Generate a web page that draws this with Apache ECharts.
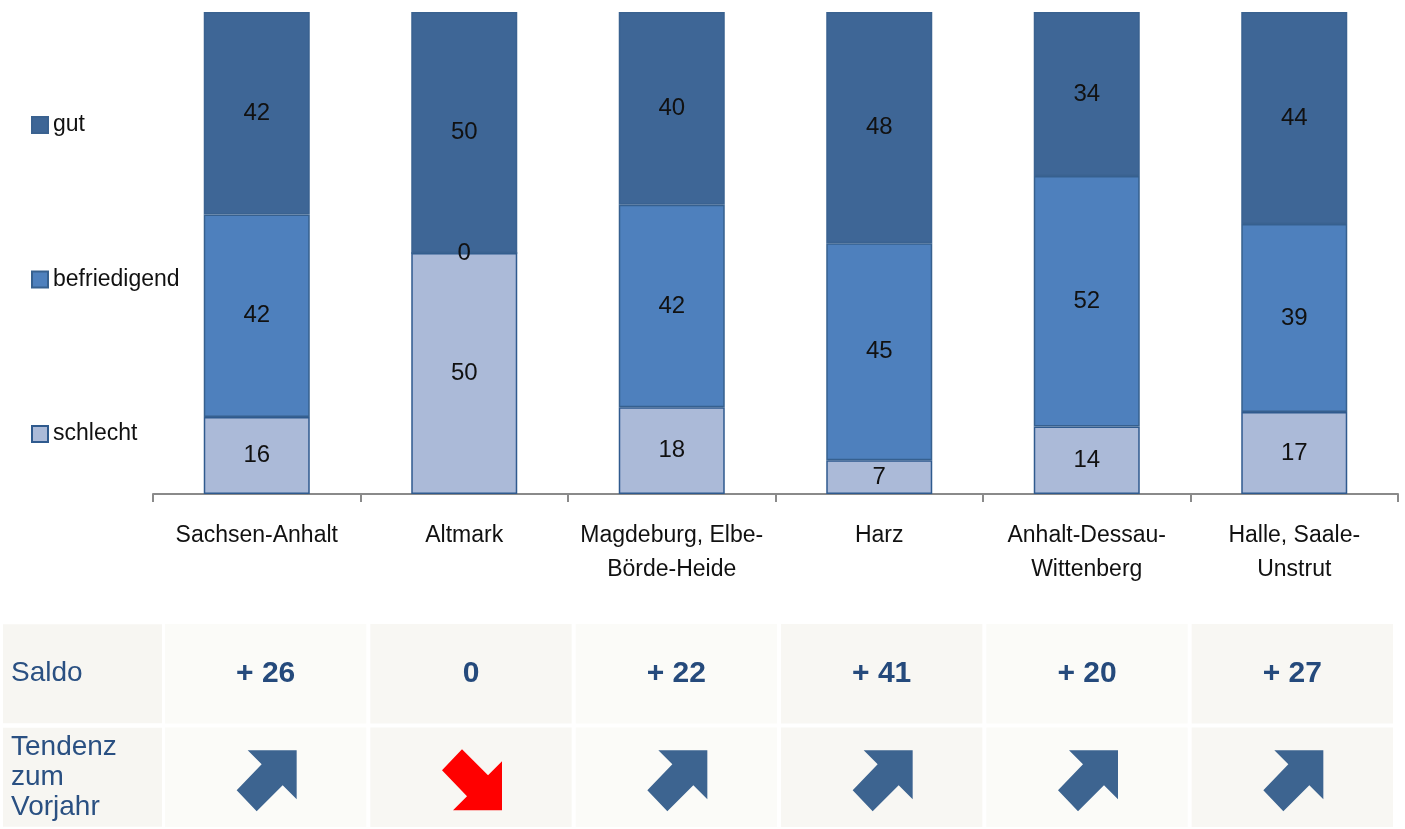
<!DOCTYPE html>
<html>
<head>
<meta charset="utf-8">
<script src="https://cdn.jsdelivr.net/npm/echarts@6/dist/echarts.min.js"></script>
<style>
html,body{margin:0;padding:0;background:#fff;}
#chart{width:1405px;height:829px;}
</style>
</head>
<body>
<div id="chart"></div>
<script>
const categories = ['Sachsen-Anhalt', 'Altmark', 'Magdeburg, Elbe-\nBörde-Heide', 'Harz', 'Anhalt-Dessau-\nWittenberg', 'Halle, Saale-\nUnstrut'];
const gut = [42, 50, 40, 48, 34, 44];
const befriedigend = [42, 0, 42, 45, 52, 39];
const schlecht = [16, 50, 18, 7, 14, 17];
const saldo = ['+ 26', '0', '+ 22', '+ 41', '+ 20', '+ 27'];
const tendenz = ['up', 'down', 'up', 'up', 'up', 'up'];
const rowLabels = ['Saldo', 'Tendenz\nzum\nVorjahr'];

const NARROW = "'Liberation Sans Narrow', 'Arial Narrow', 'Liberation Sans', Arial, sans-serif";
const SANS = "'Liberation Sans', Arial, sans-serif";

const tableData = [];
categories.forEach((c, i) => {
  tableData.push([i, 0, saldo[i]]);
  tableData.push([i, 1, tendenz[i]]);
});

function arrowPoints(cx, cy, dir) {
  const up = [[-19,-30],[30,-30],[30,19],[16,5],[-10,31],[-30,10],[-5,-16]];
  return up.map(p => [cx + p[0], cy + (dir === 'up' ? p[1] : -p[1])]);
}

const chart = echarts.init(document.getElementById('chart'));
const barLabel = { show: true, position: 'inside', color: '#111', fontSize: 24, fontFamily: NARROW };
chart.setOption({
  animation: false,
  legend: {
    data: ['gut', 'befriedigend', 'schlecht'],
    orient: 'vertical',
    left: 31, top: 110, padding: 0,
    itemWidth: 16, itemHeight: 16, itemGap: 124.5,
    icon: 'rect',
    textStyle: { fontSize: 23, fontFamily: NARROW, color: '#111', lineHeight: 30 }
  },
  grid: [
    { left: 153, right: 7, top: 12, bottom: 335 },
    { left: 163, right: 10, top: 622, bottom: 0 }
  ],
  xAxis: [
    {
      type: 'category', gridIndex: 0, data: categories,
      axisLine: { show: true, lineStyle: { color: '#8a8a8a', width: 2 } },
      axisTick: { show: true, length: 8, lineStyle: { color: '#8a8a8a', width: 2 } },
      axisLabel: { color: '#111', fontSize: 23, fontFamily: NARROW, lineHeight: 34, margin: 25, interval: 0 }
    },
    {
      type: 'category', gridIndex: 1, data: categories,
      show: false
    }
  ],
  yAxis: [
    { type: 'value', gridIndex: 0, min: 0, max: 100, show: false },
    {
      type: 'category', gridIndex: 1, data: rowLabels, inverse: true,
      axisLine: { show: false }, axisTick: { show: false }, splitLine: { show: false },
      axisLabel: {
        align: 'left', margin: 160,
        width: 151, height: 89, padding: [10, 0, 0, 8],
        backgroundColor: '#f7f6f2',
        color: '#2a5082', fontSize: 28, fontFamily: SANS, lineHeight: 30,
        verticalAlign: 'middle'
      }
    }
  ],
  series: [
    {
      name: 'schlecht', type: 'bar', stack: 'all', data: schlecht, barWidth: 106,
      itemStyle: { color: '#abbad8', borderColor: '#2f5a8e', borderWidth: 1.5 },
      label: barLabel
    },
    {
      name: 'befriedigend', type: 'bar', stack: 'all', data: befriedigend, barWidth: 106,
      itemStyle: { color: '#4e80bd', borderColor: '#36608f', borderWidth: 1.5 },
      label: barLabel
    },
    {
      name: 'gut', type: 'bar', stack: 'all', data: gut, barWidth: 106,
      itemStyle: { color: '#3e6696', borderColor: '#3a6290', borderWidth: 1.5 },
      label: barLabel
    },
    {
      type: 'custom', xAxisIndex: 1, yAxisIndex: 1, data: tableData,
      renderItem: function (params, api) {
        const col = api.value(0), row = api.value(1);
        const c = api.coord([col, row]);
        const s = api.size([1, 1]);
        const item = tableData[params.dataIndex];
        const bg = col % 2 === 0 ? '#fbfbf8' : '#f8f7f3';
        const children = [{
          type: 'rect',
          shape: { x: c[0] - s[0] / 2 + 2, y: c[1] - s[1] / 2 + 2, width: s[0] - 4, height: s[1] - 4 },
          style: { fill: bg }
        }];
        if (row === 0) {
          children.push({
            type: 'text',
            style: { text: item[2], x: c[0], y: c[1], align: 'center', verticalAlign: 'middle',
              fill: '#254a7c', font: "bold 30px 'Liberation Sans', Arial, sans-serif" }
          });
        } else {
          children.push({
            type: 'polygon',
            shape: { points: arrowPoints(c[0] + 1, c[1] + 3, item[2]) },
            style: { fill: item[2] === 'up' ? '#3d6490' : '#ff0000' }
          });
        }
        return { type: 'group', children: children };
      }
    }
  ]
});
</script>
</body>
</html>
